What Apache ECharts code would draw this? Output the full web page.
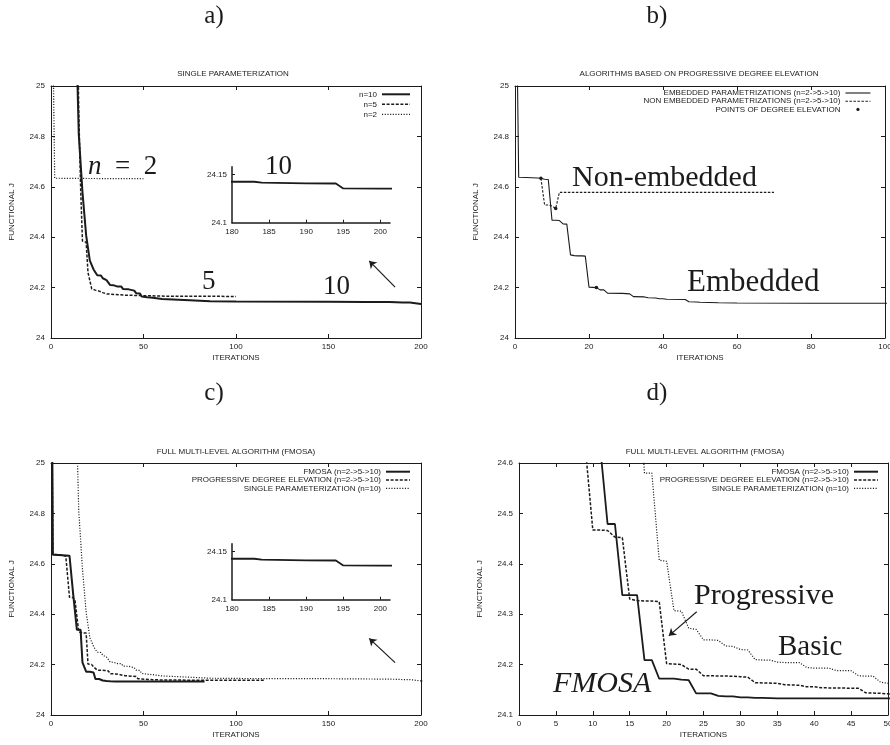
<!DOCTYPE html>
<html>
<head>
<meta charset="utf-8">
<script src="https://cdn.jsdelivr.net/npm/echarts@6/dist/echarts.min.js"></script>
<style>
  html, body { margin: 0; padding: 0; background: #fff; }
  #chart { width: 890px; height: 745px; }
</style>
</head>
<body>
<div id="chart"></div>
<script>
// ---- data (iteration, functional J) ----
// single parameterization n=10 ("Basic")
var singleIter = [12, 14, 15, 16, 17, 18, 19, 20, 21, 22, 23, 24, 25, 26, 27, 28, 29, 30, 31, 32, 33, 34, 35, 36, 38, 39, 40, 42, 43, 45,
  46, 47, 48, 49, 50, 52, 55, 58, 60, 66, 75, 86, 100, 150, 170, 180, 183, 184, 190, 194, 195, 200, 202];
var singleJ = [25.9, 25.1, 24.81, 24.81, 24.58, 24.58, 24.407, 24.405, 24.307, 24.306, 24.272, 24.27, 24.249, 24.249, 24.248, 24.237, 24.236, 24.23, 24.229, 24.21,
  24.209, 24.209, 24.205, 24.204, 24.204, 24.194, 24.193, 24.193, 24.188, 24.188, 24.178, 24.177, 24.177, 24.165, 24.163, 24.162, 24.16, 24.157, 24.155, 24.153,
  24.15, 24.146, 24.145, 24.144, 24.143, 24.1424, 24.1424, 24.1415, 24.1407, 24.1406, 24.1355, 24.1352, 24.1352];
// single parameterization n=5
var n5Iter = [13, 14, 15, 16, 17, 18, 19, 20, 21, 22, 24, 26, 28, 30, 31, 40, 50, 62, 100];
var n5J = [26.0, 25.4, 24.9, 24.6, 24.385, 24.383, 24.38, 24.26, 24.258, 24.195, 24.19, 24.186, 24.18, 24.175, 24.172, 24.17, 24.168, 24.166, 24.165];
// single parameterization n=2
var n2Iter = [0, 1, 2, 20, 50];
var n2J = [26.0, 25.2, 24.634, 24.633, 24.632];
// embedded parametrizations = progressive degree elevation
var embIter = [0, 1, 3, 6, 7, 8, 9, 10, 11, 12, 13, 14, 15, 16, 17, 18, 19, 20, 21, 22, 23, 24, 25, 29, 30, 31, 32, 35, 36, 38,
  39, 40, 41, 46, 47, 49, 50, 55, 60, 80, 100, 115];
var embJ = [25.8, 24.638, 24.637, 24.635, 24.634, 24.63, 24.629, 24.467, 24.467, 24.466, 24.453, 24.452, 24.33, 24.327, 24.326, 24.326, 24.325, 24.202, 24.201, 24.2,
  24.191, 24.191, 24.178, 24.177, 24.176, 24.175, 24.164, 24.163, 24.16, 24.159, 24.156, 24.156, 24.154, 24.153, 24.144, 24.143, 24.142, 24.14, 24.139, 24.138,
  24.138, 24.138];
// non embedded parametrizations
var nonEmbIter = [7, 8, 9, 10, 11, 12, 70];
var nonEmbJ = [24.634, 24.528, 24.528, 24.524, 24.514, 24.578, 24.578];
// points of degree elevation
var elevIter = [7, 11, 22];
var elevJ = [24.634, 24.514, 24.2];
// FMOSA
var fmosaIter = [0, 1, 4, 10, 11, 12, 13, 14, 15, 16, 17, 18, 19, 20, 21, 22, 23, 24, 25, 26, 27, 28, 29, 30, 31, 32, 33, 35, 83];
var fmosaJ = [26.0, 24.636, 24.635, 24.632, 24.632, 24.479, 24.479, 24.338, 24.338, 24.338, 24.209, 24.209, 24.172, 24.172, 24.172, 24.17, 24.169, 24.143, 24.143, 24.143,
  24.138, 24.137, 24.137, 24.135, 24.135, 24.134, 24.134, 24.133, 24.133];

var SANS = 'Liberation Sans', SERIF = 'Liberation Serif', INK = '#1b1b1b', FS = 8;

function zip(xs, ys) { return xs.map(function (x, i) { return [x, ys[i]]; }); }

var grids = [], xAxes = [], yAxes = [], series = [];

function axis(dim, pos, gi, c, main) {
  return {
    type: 'value', gridIndex: gi, position: pos,
    min: c.min, max: c.max, interval: c.step,
    name: main ? c.name : '', nameLocation: 'middle', nameGap: c.gap,
    nameRotate: dim === 'y' ? 90 : 0, nameMoveOverlap: false,
    nameTextStyle: { fontFamily: SANS, fontSize: FS, color: INK },
    axisLine: { show: true, onZero: false, lineStyle: { color: INK, width: 1 } },
    axisTick: { show: true, inside: true, length: 4, lineStyle: { color: INK, width: 1 } },
    axisLabel: { show: main, margin: dim === 'x' ? 5 : 6, fontFamily: SANS, fontSize: FS, color: INK },
    splitLine: { show: false }
  };
}

function panel(box, xc, yc) {
  var gi = grids.length;
  grids.push({ left: box[0], top: box[1], width: box[2], height: box[3], containLabel: false, outerBoundsMode: 'none', show: false });
  var xi = xAxes.length, yi = yAxes.length;
  xAxes.push(axis('x', 'bottom', gi, xc, true), axis('x', 'top', gi, xc, false));
  yAxes.push(axis('y', 'left', gi, yc, true), axis('y', 'right', gi, yc, false));
  return { x: xi, y: yi };
}

function inset(box) {
  var gi = grids.length;
  grids.push({ left: box[0], top: box[1], width: box[2], height: box[3], containLabel: false, outerBoundsMode: 'none', show: false });
  var xi = xAxes.length, yi = yAxes.length;
  var common = {
    type: 'value', gridIndex: gi,
    axisLine: { show: true, onZero: false, lineStyle: { color: INK, width: 1.5 } },
    axisTick: { show: true, inside: true, length: 3, lineStyle: { color: INK, width: 1 } },
    splitLine: { show: false }
  };
  xAxes.push(Object.assign({}, common, { position: 'bottom', min: 180, max: 201.3,
    axisTick: Object.assign({}, common.axisTick, { customValues: [185, 190, 195, 200] }),
    axisLabel: { margin: 5, fontFamily: SANS, fontSize: FS, color: INK, customValues: [180, 185, 190, 195, 200] } }));
  yAxes.push(Object.assign({}, common, { position: 'left', min: 24.1, max: 24.158,
    axisTick: Object.assign({}, common.axisTick, { customValues: [24.15] }),
    axisLabel: { margin: 5, fontFamily: SANS, fontSize: FS, color: INK, customValues: [24.1, 24.15],
      formatter: function (v) { return String(+v.toFixed(2)); } } }));
  return { x: xi, y: yi };
}

var SOLID = 'solid', DASH = [3, 1.6], DOT = [1.1, 1.6];

function line(ax, name, xs, ys, width, type, extra) {
  return Object.assign({
    type: 'line', name: name, xAxisIndex: ax.x, yAxisIndex: ax.y,
    data: zip(xs, ys), symbol: 'none', showSymbol: false, clip: true,
    lineStyle: { color: INK, width: width, type: type },
    itemStyle: { color: 'rgba(0,0,0,0)' },
    emphasis: { disabled: true }, silent: true
  }, extra || {});
}

function arrow(from, to) {
  return {
    silent: true, symbol: ['none', 'arrow'], symbolSize: 7,
    lineStyle: { color: INK, width: 1.2, type: 'solid' },
    label: { show: false }, emphasis: { disabled: true },
    data: [[{ coord: from }, { coord: to }]]
  };
}

// ---- a) single parameterization ----
var A = panel([51, 86, 370, 252],
  { min: 0, max: 200, step: 50, name: 'ITERATIONS', gap: 16 },
  { min: 24, max: 25, step: 0.2, name: 'FUNCTIONAL J', gap: 35 });
series.push(
  line(A, 'n=10', singleIter, singleJ, 2, SOLID, { markLine: arrow([186, 24.202], [172, 24.306]) }),
  line(A, 'n=5', n5Iter, n5J, 1.5, DASH),
  line(A, 'n=2', n2Iter, n2J, 1.2, DOT)
);
var AI = inset([232, 166.7, 158, 56]);
series.push(line(AI, 'inset a', singleIter, singleJ, 1.8, SOLID));

// ---- b) progressive degree elevation ----
var B = panel([515, 86, 370, 252],
  { min: 0, max: 100, step: 20, name: 'ITERATIONS', gap: 16 },
  { min: 24, max: 25, step: 0.2, name: 'FUNCTIONAL J', gap: 35 });
var nameEmb = 'EMBEDDED PARAMETRIZATIONS (n=2->5->10)';
var nameNon = 'NON EMBEDDED PARAMETRIZATIONS (n=2->5->10)';
var namePts = 'POINTS OF DEGREE ELEVATION';
series.push(
  line(B, nameEmb, embIter, embJ, 1.1, SOLID),
  line(B, nameNon, nonEmbIter, nonEmbJ, 1.1, [2.5, 1.5]),
  line(B, namePts, elevIter, elevJ, 1, SOLID, {
    symbol: 'circle', symbolSize: 3.5, showSymbol: true,
    lineStyle: { color: 'rgba(0,0,0,0)', width: 1, opacity: 0 },
    itemStyle: { color: INK }
  })
);

// ---- c) full multi-level algorithm ----
var C = panel([51, 463, 370, 252],
  { min: 0, max: 200, step: 50, name: 'ITERATIONS', gap: 16 },
  { min: 24, max: 25, step: 0.2, name: 'FUNCTIONAL J', gap: 35 });
var nameF = 'FMOSA (n=2->5->10)';
var nameP = 'PROGRESSIVE DEGREE ELEVATION (n=2->5->10)';
var nameS = 'SINGLE PARAMETERIZATION (n=10)';
series.push(
  line(C, nameF, fmosaIter, fmosaJ, 2, SOLID, { markLine: arrow([186, 24.208], [172, 24.304]) }),
  line(C, nameP, embIter, embJ, 1.5, DASH),
  line(C, nameS, singleIter, singleJ, 1.2, DOT)
);
var CI = inset([232, 543.7, 158, 56]);
series.push(line(CI, 'inset c', singleIter, singleJ, 1.8, SOLID));

// ---- d) zoom of c) ----
var D = panel([519, 463, 369, 252],
  { min: 0, max: 50, step: 5, name: 'ITERATIONS', gap: 16 },
  { min: 24.1, max: 24.6, step: 0.1, name: 'FUNCTIONAL J', gap: 35 });
series.push(
  line(D, nameF, fmosaIter, fmosaJ, 1.8, SOLID),
  line(D, nameP, embIter, embJ, 1.5, DASH, { markLine: arrow([24.08, 24.305], [20.3, 24.257]) }),
  line(D, nameS, singleIter, singleJ, 1.2, DOT)
);

function legend(names, right, top, iconW, gap) {
  return {
    data: names, orient: 'vertical', align: 'right', right: right, top: top,
    itemWidth: iconW, itemHeight: 4, itemGap: gap, padding: 0, selectedMode: false,
    textStyle: { fontFamily: SANS, fontSize: FS, color: INK },
    lineStyle: { width: 'inherit', type: 'inherit', color: 'inherit', opacity: 'inherit' }
  };
}

function txt(text, x, baseline, size, opts) {
  return {
    type: 'text', x: x, y: baseline - 0.34 * size, silent: true,
    style: Object.assign({ text: text, fontFamily: SERIF, fontSize: size, fill: INK, align: 'left', verticalAlign: 'middle' }, opts || {})
  };
}
function title(text, cx, cy) {
  return { type: 'text', x: cx, y: cy, silent: true,
    style: { text: text, fontFamily: SANS, fontSize: FS, fill: INK, align: 'center', verticalAlign: 'middle' } };
}

var chart = echarts.init(document.getElementById('chart'), null, { renderer: 'canvas' });
chart.setOption({
  animation: false,
  backgroundColor: '#fff',
  textStyle: { fontFamily: SANS },
  grid: grids,
  xAxis: xAxes,
  yAxis: yAxes,
  legend: [
    legend(['n=10', 'n=5', 'n=2'], 479, 90.3, 28, 2),
    legend([nameEmb, nameNon, namePts], 19, 89, 25, 0.2),
    legend([nameF, nameP, nameS], 479, 467.7, 24, 0.3),
    legend([nameF, nameP, nameS], 11, 467.7, 24, 0.3)
  ],
  series: series,
  graphic: [
    txt('a)', 214, 25, 25, { align: 'center' }),
    txt('b)', 657, 25, 25, { align: 'center' }),
    txt('c)', 214, 402, 25, { align: 'center' }),
    txt('d)', 657, 402, 25, { align: 'center' }),
    title('SINGLE PARAMETERIZATION', 233, 74),
    title('ALGORITHMS BASED ON PROGRESSIVE DEGREE ELEVATION', 699, 74),
    title('FULL MULTI-LEVEL ALGORITHM (FMOSA)', 236, 452),
    title('FULL MULTI-LEVEL ALGORITHM (FMOSA)', 705, 452),
    txt('{i|n}\u2002=\u20022', 88, 176, 27, { rich: { i: { fontFamily: SERIF, fontSize: 27, fontStyle: 'italic', fill: INK } } }),
    txt('10', 265, 176.5, 27),
    txt('5', 202, 291, 27),
    txt('10', 323, 296.5, 27),
    txt('Non-embedded', 572, 188, 30),
    txt('Embedded', 687, 293, 31),
    txt('Progressive', 694, 606.5, 30),
    txt('Basic', 778, 657, 29),
    txt('FMOSA', 553, 694, 30, { fontStyle: 'italic' })
  ]
});
</script>
</body>
</html>
